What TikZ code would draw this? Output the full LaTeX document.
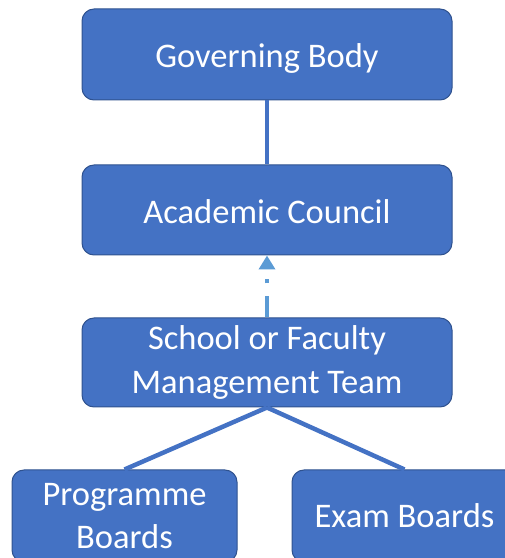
\documentclass[tikz,border=0pt]{standalone}
\usepackage{fontspec}
\setmainfont{Carlito}
\usetikzlibrary{arrows.meta}
\definecolor{boxfill}{HTML}{4472C4}
\definecolor{boxedge}{HTML}{2F528F}
\definecolor{dashblue}{HTML}{5B9BD5}
\newcommand{\lowertext}[2]{\raisebox{-#1}[\height][\depth]{#2}}
\tikzset{
  orgbox/.style={draw=boxedge, line width=1pt, fill=boxfill, rounded corners=12pt,
    text=white, align=center, inner sep=0pt,
    font=\fontsize{34.5}{43.5}\selectfont},
  link/.style={draw=boxfill, line width=4.5pt},
  dlink/.style={draw=dashblue, line width=4.5pt, dash pattern=on 21pt off 13pt on 4pt off 40pt,
    -{Triangle[width=16pt,length=14pt]}}
}
\begin{document}
\begin{tikzpicture}[x=1pt,y=1pt]
\useasboundingbox (0,0) rectangle (505,558);
\begin{scope}
\clip (0,0) rectangle (505,558);
\node[orgbox, minimum width=370pt, minimum height=91pt] (gov) at (267,503.5) {\lowertext{4pt}{Governing Body}};
\node[orgbox, minimum width=370pt, minimum height=90pt] (acad) at (267,348) {\lowertext{2pt}{Academic Council}};
\node[orgbox, minimum width=370pt, minimum height=89pt] (school) at (267,195.5) {School or Faculty\\Management Team};
\node[orgbox, minimum width=225pt, minimum height=92pt] (prog) at (124.5,42) {Programme\\Boards};
\node[orgbox, minimum width=225pt, minimum height=92pt] (exam) at (404.5,42) {Exam Boards};
\end{scope}
\draw[link] (gov.south) -- (acad.north);
\draw[dlink] (school.north) -- (acad.south);
\draw[link] (school.south) -- (prog.north);
\draw[link] (school.south) -- (exam.north);
\end{tikzpicture}
\end{document}
